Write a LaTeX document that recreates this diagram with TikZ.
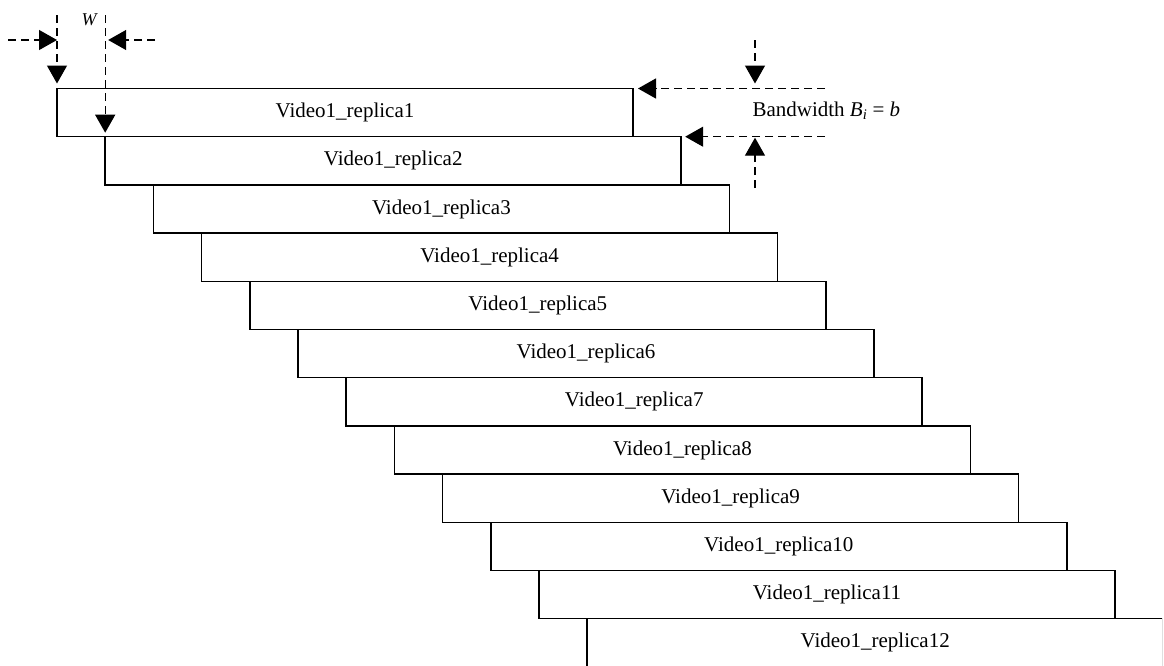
\documentclass[tikz,border=0pt]{standalone}
\usepackage{fontspec}
\setmainfont{Liberation Serif}
\usepackage{tikz}
\usetikzlibrary{positioning,calc,arrows.meta}

\begin{document}
\begin{tikzpicture}[
    x=1pt, y=-1pt,
    replica/.style={rectangle, draw, line width=1.5pt, anchor=north west, minimum width=576pt, minimum height=48.2pt, inner sep=0pt, outer sep=0pt, font=\fontsize{21}{25}\selectfont},
    dimline/.style={line width=1.3pt, dash pattern=on 8pt off 5pt, -{Triangle[length=18pt,width=20pt]}},
    label/.style={font=\fontsize{21}{25}\selectfont}
]
    \useasboundingbox (0,0) rectangle (1164,665);
    \clip (0,0) rectangle (1162,665);
    % the staircase of replicas
    \foreach \i in {1,...,12}
        \node[replica] (r\i) at ({57+48.2*(\i-1)},{88.5+48.2*(\i-1)}) {Video1\_replica\i};

    % width W
    \coordinate (wl) at (8,40);
    \coordinate (wr) at (155,40);
    \coordinate (wt1) at (57,15);
    \coordinate (wt2) at (105.2,15);
    \draw[dimline] (wl) -- (r1.north west |- wl);
    \draw[dimline, shorten >=3pt] (wr) -- (r2.north west |- wr);
    \draw[dimline, shorten >=5pt] (wt1) -- (r1.north west);
    \draw[dimline, shorten >=4pt] (wt2) -- (r2.north west);
    \node[font=\fontsize{18}{20}\selectfont\itshape] (wlab) at (89,20) {W};

    % bandwidth
    \coordinate (bt) at (825,88.5);
    \coordinate (bb) at (825,136.7);
    \coordinate (bdn) at (755,40);
    \coordinate (bup) at (755,188);
    \draw[dimline, shorten >=5pt] (bt) -- (r1.north east);
    \draw[dimline, shorten >=4pt] (bb) -- (r2.north east);
    \draw[dimline, shorten >=5pt] (bdn) -- (bdn |- bt);
    \draw[dimline, shorten >=1pt] (bup) -- (bup |- bb);
    \node[label, anchor=west] (bwlab) at (749,111) {Bandwidth \textit{B\textsubscript{i}} = \textit{b}};
\end{tikzpicture}
\end{document}
